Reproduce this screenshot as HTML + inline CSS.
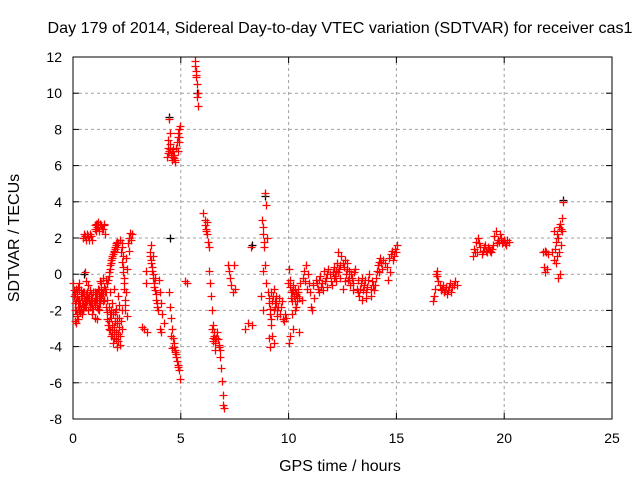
<!DOCTYPE html>
<html><head><meta charset="utf-8"><style>
html,body{margin:0;padding:0;background:#fff;}
svg{display:block;font-family:"Liberation Sans",sans-serif;}
</style></head><body>
<svg id="chart" width="640" height="480" viewBox="0 0 640 480" xmlns="http://www.w3.org/2000/svg">
<rect width="640" height="480" fill="#fff"/>
<text x="340" y="33" font-size="16" text-anchor="middle" textLength="585" lengthAdjust="spacingAndGlyphs">Day 179 of 2014, Sidereal Day-to-day VTEC variation (SDTVAR) for receiver cas1</text>
<g id="grid"></g>
<g id="axes"></g>
<g id="marks"></g>
<text x="340" y="471" font-size="16" text-anchor="middle">GPS time / hours</text>
<text transform="translate(19,238) rotate(-90)" font-size="16" text-anchor="middle">SDTVAR / TECUs</text>
</svg>
<script>
const xTicks=[0,5,10,15,20,25];
const yTicks=[-8,-6,-4,-2,0,2,4,6,8,10,12];
const blackPts=[[4.5,2.0],[5.75,10.0],[8.9,4.3],[8.3,1.6],[4.45,8.7],[0.5,0.0],[22.75,4.1]];
const redPts=[
[0.02,-0.5],[0.05,-1.2],[0.08,-2.0],[0.1,-2.6],[0.12,-0.8],[0.15,-1.5],[0.18,-2.3],[0.2,-1.0],[0.22,-1.8],[0.25,-2.5],[0.28,-0.9],[0.3,-1.4],[0.32,-2.1],[0.35,-1.2],[0.38,-1.9],[0.4,-1.6],[0.42,-2.2],[0.45,-1.0],[0.48,-1.7],[0.5,-1.3],
[0.55,-1.8],[0.6,-1.1],[0.65,-1.5],[0.7,-2.0],[0.75,-1.2],[0.8,-0.9],[0.85,-1.6],[0.9,-1.3],[0.95,-1.9],[1.0,-1.0],[1.05,-1.4],[1.1,-1.8],[1.15,-0.8],[1.2,-1.2],[1.25,-1.6],[1.3,-0.5],[1.35,-1.1],[1.4,-0.2],[1.45,-1.4],[1.5,-0.8],[1.55,-0.3],[0.6,-0.4],[0.7,-0.6],[0.55,0.1],[0.9,-2.2],[1.0,-2.4],[1.1,-2.5],[0.3,-0.5],[0.65,-1.0],[0.85,-1.1],[1.25,-0.4],[1.2,-2.0],
[0.05,-0.9],[0.08,-1.6],[0.13,-2.0],[0.17,-1.2],[0.23,-1.4],[0.27,-2.0],[0.33,-1.6],[0.37,-0.9],[0.43,-1.4],[0.47,-2.0],[0.52,-1.0],[0.57,-1.4],[0.62,-1.8],[0.67,-1.2],[0.72,-1.5],[0.77,-1.8],[0.82,-1.3],[0.87,-1.9],[0.92,-1.0],[0.97,-1.5],[1.02,-1.7],[1.07,-1.1],[1.12,-1.4],[1.17,-1.9],[1.22,-0.9],[1.27,-1.2],[1.32,-0.9],[1.37,-1.5],[1.42,-0.7],[1.47,-1.0],[0.1,-1.1],[0.2,-2.2],[0.3,-1.8],[0.4,-1.1],[0.5,-1.8],[0.6,-1.5],[0.7,-1.3],[0.8,-1.6],[0.9,-1.7],[1.0,-1.3],[1.1,-1.1],[1.2,-1.6],[1.3,-1.3],[1.4,-1.0],[0.15,-2.7],[0.25,-0.7],
[0.45,2.0],[0.55,2.1],[0.65,2.2],[0.75,1.9],[0.85,2.1],[1.0,2.5],[1.05,2.8],[1.1,2.6],[1.15,2.9],[1.2,2.4],[1.3,2.7],[1.4,2.5],[1.45,2.8],[1.5,2.2],
[0.5,2.2],[0.6,1.9],[0.7,2.1],[0.8,2.2],[0.9,1.9],[1.02,2.7],[1.08,2.4],[1.12,2.8],[1.18,2.6],[1.25,2.8],[1.35,2.5],[1.42,2.7],
[1.55,-1.8],[1.6,-2.5],[1.65,-3.0],[1.7,-2.2],[1.75,-3.4],[1.8,-2.8],[1.85,-3.8],[1.9,-3.1],[1.95,-2.6],[2.0,-3.6],[2.05,-4.0],[2.1,-3.3],[2.15,-2.4],[2.2,-3.9],[2.25,-3.0],[1.6,-1.4],[1.7,-1.0],[1.8,-1.6],[1.9,-0.8],[2.0,-1.9],[2.1,-1.2],
[1.58,-2.1],[1.62,-2.8],[1.68,-2.6],[1.72,-3.1],[1.78,-2.4],[1.82,-3.3],[1.88,-3.5],[1.92,-2.9],[1.98,-3.2],[2.02,-2.7],[2.08,-3.7],[2.12,-2.9],[2.18,-3.4],[2.22,-2.6],[1.65,-1.8],[1.75,-2.0],[1.85,-2.2],[1.95,-2.1],[2.05,-2.4],[2.15,-1.7],[2.25,-2.0],
[1.55,-1.0],[1.6,-0.5],[1.65,-0.1],[1.7,0.3],[1.75,0.6],[1.8,0.9],[1.85,1.1],[1.9,1.3],[1.95,1.5],[2.0,1.6],[2.05,1.5],[2.1,1.7],
[1.62,-0.3],[1.68,0.1],[1.72,0.5],[1.78,0.8],[1.83,1.0],[1.88,1.2],[1.93,1.4],[1.98,1.7],[2.03,1.8],
[2.2,1.9],[2.25,1.5],[2.3,1.0],[2.3,0.4],[2.35,-0.2],[2.35,-0.8],[2.4,-1.4],[2.4,-2.0],[2.45,-1.0],[2.5,0.3],[2.45,0.9],[2.5,-2.3],
[2.22,1.2],[2.28,0.7],[2.32,0.1],[2.38,-0.5],[2.42,-1.7],[2.27,1.7],
[2.55,1.7],[2.6,2.0],[2.65,2.3],[2.7,1.9],[2.75,2.2],[2.6,1.3],
[3.2,-2.9],[3.3,-3.0],[3.45,-3.2],[3.4,0.2],[3.4,-0.5],
[3.55,1.2],[3.6,0.8],[3.65,0.4],[3.7,0.0],[3.75,-0.5],[3.8,-0.9],[3.85,-1.4],[3.9,-1.8],[3.95,-2.0],[3.6,1.6],[3.7,1.0],[3.8,-0.2],
[3.58,1.0],[3.63,0.6],[3.68,0.2],[3.73,-0.2],[3.78,-0.7],[3.83,-1.1],[3.88,-1.6],
[4.0,-0.3],[4.05,-1.0],[4.1,-1.6],[4.15,-2.2],[4.05,-3.0],[4.1,-3.2],[4.2,-2.7],
[4.35,6.5],[4.4,7.0],[4.45,6.8],[4.5,7.2],[4.55,6.6],[4.6,6.3],[4.65,6.9],[4.7,6.4],[4.45,8.6],[4.5,7.8],[4.4,7.4],[4.75,6.2],[4.8,7.0],[4.85,7.6],[4.9,8.0],[4.95,8.2],[4.85,6.8],[4.9,7.3],
[4.42,6.7],[4.48,7.0],[4.52,6.9],[4.58,6.8],[4.62,6.5],[4.68,6.6],[4.72,6.3],[4.82,7.3],[4.88,7.8],[4.92,7.6],
[4.45,-1.0],[4.5,-1.8],[4.55,-2.4],[4.6,-3.0],[4.65,-3.5],[4.7,-4.0],[4.75,-4.3],[4.8,-4.6],[4.85,-5.0],[4.9,-5.3],[4.95,-5.8],[4.55,-3.4],[4.6,-4.1],
[4.68,-3.8],[4.72,-4.2],[4.78,-4.4],[4.82,-4.8],[4.88,-5.1],
[5.2,-0.4],[5.3,-0.5],
[5.65,11.8],[5.7,11.2],[5.7,10.9],[5.75,10.5],[5.75,9.8],[5.8,9.3],[5.8,10.0],[5.68,11.5],[5.72,11.0],
[6.05,3.4],[6.1,3.0],[6.15,2.5],[6.2,2.2],[6.25,1.8],[6.3,1.5],[6.2,2.9],[6.12,2.7],[6.18,2.4],
[6.3,0.2],[6.35,-0.5],[6.4,-1.2],[6.45,-2.0],[6.5,-2.8],[6.55,-3.4],[6.6,-3.8],[6.5,-3.5],[6.45,-3.0],[6.6,-4.2],[6.52,-3.2],[6.57,-3.6],[6.62,-3.5],[6.48,-3.7],
[6.7,-3.2],[6.75,-4.0],[6.8,-4.6],[6.85,-5.2],[6.9,-5.9],[6.95,-6.7],[7.0,-7.4],[6.95,-7.2],[6.8,-4.2],[6.72,-3.6],[6.78,-3.9],
[7.2,0.5],[7.25,0.2],[7.3,-0.2],[7.35,-0.6],[7.4,-1.0],[7.45,0.5],[7.5,-0.8],
[8.0,-3.0],[8.1,-2.7],[8.25,1.5],[8.3,-2.8],
[8.75,3.0],[8.8,2.2],[8.85,1.5],[8.9,4.5],[8.95,3.8],[9.0,2.0],[8.9,0.5],[8.8,0.2],[8.95,-0.5],[8.7,-1.2],[8.8,-2.0],[8.82,2.6],[8.88,1.8],
[9.05,-1.0],[9.1,-1.6],[9.15,-2.2],[9.2,-2.8],[9.25,-3.4],[9.3,-3.8],[9.35,-1.5],[9.4,-1.2],[9.45,-2.0],[9.5,-1.8],[9.2,-1.0],[9.3,-0.8],[9.1,-3.5],[9.15,-4.0],
[9.08,-1.3],[9.12,-1.9],[9.18,-2.5],[9.22,-1.5],[9.28,-1.2],[9.32,-2.0],[9.38,-1.8],[9.42,-1.6],[9.48,-2.3],
[9.55,-1.3],[9.6,-2.2],[9.7,-1.5],[9.75,-2.5],[9.8,-2.6],[9.9,-2.4],[9.95,-0.5],[9.65,-1.8],[9.85,-2.2],
[10.0,0.3],[10.05,-0.3],[10.1,-1.0],[10.15,-1.5],[10.2,-0.6],[10.25,-1.2],[10.3,-0.8],[10.35,-1.8],[10.4,-1.2],[10.45,-1.0],[10.0,-3.8],[10.05,-3.4],[10.2,-3.0],[10.15,-2.2],[10.3,-2.0],[10.5,-3.2],[10.6,-1.4],[10.55,-0.5],
[10.08,-0.7],[10.12,-1.3],[10.18,-1.0],[10.22,-0.9],[10.28,-1.5],[10.33,-1.1],[10.38,-1.5],[10.43,-0.8],[10.48,-1.3],
[10.65,-0.2],[10.7,0.2],[10.8,0.5],[10.9,0.0],[10.85,-0.8],[11.0,-1.0],[11.05,-1.8],[11.1,-2.0],[10.75,-0.4],[10.95,-0.5],
[11.15,-0.6],[11.25,-0.3],[11.35,-0.8],[11.45,-0.1],[11.55,-0.5],[11.65,0.2],[11.75,-0.2],[11.85,0.3],[11.95,-0.4],[12.05,0.1],[12.15,-0.1],[12.25,0.6],[12.35,0.3],[12.45,1.0],[12.55,0.4],[12.65,0.0],[12.75,-0.3],[12.85,-0.6],[12.95,-0.2],[13.05,0.1],[13.15,-0.8],[13.25,-1.2],[13.35,-0.5],[13.45,-0.9],[13.55,-0.3],[13.65,-0.7],[13.75,0.0],[13.85,-0.4],[13.95,-0.9],[14.05,-0.2],[14.15,0.5],[14.25,0.9],[14.35,0.3],[14.45,0.6],
[11.2,-1.3],[11.4,-1.0],[11.6,-0.9],[11.8,-0.7],[12.0,-0.6],[12.2,-0.4],[12.4,-0.2],[12.6,0.8],[12.8,0.2],[13.0,-0.9],[13.2,-0.3],[13.4,-1.4],[13.6,-1.0],[13.8,-1.2],[14.0,-0.6],[14.2,0.1],[14.4,0.8],[12.3,1.2],[12.5,-0.8],[13.1,0.3],
[11.3,-0.5],[11.5,-0.7],[11.7,-0.4],[11.9,0.0],[12.1,-0.2],[12.1,0.4],[12.3,0.1],[12.5,0.6],[12.7,0.3],[12.9,0.0],[13.0,-0.5],[13.3,-0.8],[13.5,-0.6],[13.7,-0.3],[13.9,-0.6],[14.1,0.2],[14.3,0.6],[12.4,0.5],[12.6,-0.4],[12.8,-0.2],[13.2,-1.0],[13.6,-1.3],[11.4,-0.3],[11.8,0.0],[12.2,0.2],[12.7,0.6],[13.4,-0.2],[13.8,-0.8],[14.2,0.7],
[14.55,0.4],[14.65,0.9],[14.75,1.1],[14.85,0.8],[14.95,1.4],[15.05,1.6],[14.6,-0.3],[14.7,0.1],[14.8,1.3],[14.9,1.0],[15.0,1.2],
[16.7,-1.5],[16.75,-1.2],[16.8,-0.8],[16.85,0.0],[16.9,0.2],[16.95,-0.4],[17.0,-0.6],[17.1,-0.8],[17.2,-1.0],[17.3,-0.7],[17.4,-0.9],[17.5,-0.5],[17.6,-0.7],[17.7,-0.4],[17.8,-0.6],[17.05,-0.9],[17.35,-1.1],
[17.15,-0.6],[17.25,-0.9],[17.45,-0.7],[17.55,-1.0],[17.65,-0.6],[16.88,-0.1],
[18.55,1.0],[18.6,1.4],[18.7,1.8],[18.75,1.2],[18.8,2.0],[18.9,1.5],[19.0,1.3],[19.1,1.6],[19.2,1.2],[19.3,1.4],[19.4,1.2],[19.5,1.6],[19.55,2.1],[19.6,2.4],[19.7,1.9],[19.8,2.2],[19.9,1.7],[20.0,1.9],[20.1,1.6],[20.2,1.8],[18.95,1.1],[19.65,1.7],
[18.65,1.2],[18.85,1.7],[19.05,1.5],[19.15,1.3],[19.25,1.5],[19.35,1.3],[19.45,1.4],[19.75,1.8],[19.85,2.0],[19.95,1.8],[20.05,1.7],[20.15,1.9],
[21.8,1.2],[21.9,1.3],[21.85,0.4],[21.9,0.1],[22.0,0.3],[22.05,1.1],[22.2,1.2],[22.3,0.8],[22.3,2.4],[22.4,1.8],[22.4,0.6],[22.5,2.0],[22.55,1.2],[22.6,2.8],[22.65,2.5],[22.7,3.1],[22.6,0.0],[22.75,4.0],[22.5,-0.2],
[22.35,1.4],[22.45,2.2],[22.55,2.6],[22.65,1.6],[22.7,2.4],[21.95,1.2],[22.45,1.0]
];
const NS='http://www.w3.org/2000/svg';
const X0=73,X1=612,Y0=419,Y1=57;
function xs(t){return X0+(t-0)/(25-0)*(X1-X0);}
function ys(v){return Y0-(v-(-8))/(12-(-8))*(Y0-Y1);}
function mk(tag,attrs,parent){const e=document.createElementNS(NS,tag);for(const k in attrs)e.setAttribute(k,attrs[k]);parent.appendChild(e);return e;}
const grid=document.getElementById('grid'),axes=document.getElementById('axes'),marks=document.getElementById('marks');
xTicks.forEach(t=>{const x=xs(t);
 if(t>0&&t<25){const g=mk('line',{x1:x,x2:x,y1:Y0,y2:Y1,stroke:'#a0a0a0','stroke-dasharray':'3,3','stroke-width':1},grid);
  
  }
 mk('line',{x1:x,x2:x,y1:Y0,y2:Y0-6,stroke:'#000'},axes);
 mk('line',{x1:x,x2:x,y1:Y1,y2:Y1+6,stroke:'#000'},axes);
 const tl=mk('text',{x:x,y:443,'font-size':14,'text-anchor':'middle'},axes);tl.textContent=t;
 
 
});
yTicks.forEach(v=>{const y=ys(v);
 if(v>-8&&v<12){const g=mk('line',{x1:X0,x2:X1,y1:y,y2:y,stroke:'#a0a0a0','stroke-dasharray':'3,3','stroke-width':1},grid);
  
  }
 mk('line',{x1:X0,x2:X0+6,y1:y,y2:y,stroke:'#000'},axes);
 mk('line',{x1:X1,x2:X1-6,y1:y,y2:y,stroke:'#000'},axes);
 const tl=mk('text',{x:62,y:y+5,'font-size':14,'text-anchor':'end'},axes);tl.textContent=v;
 
 
});
const fr=mk('rect',{x:X0,y:Y1,width:X1-X0,height:Y0-Y1,fill:'none',stroke:'#000'},axes);


function plus(pts,color,name){let d='';pts.forEach(p=>{const x=Math.round(xs(p[0]))+0.5,y=Math.round(ys(p[1]))+0.5;d+='M'+(x-4)+' '+y+'h8M'+x+' '+(y-4)+'v8';});
 const path=mk('path',{d:d,stroke:color,'stroke-width':1.3,fill:'none'},marks);
 
 }
plus(blackPts,'#000','black-series-points');
plus(redPts,'#ff0000','red-series-points');
</script>
</body></html>
